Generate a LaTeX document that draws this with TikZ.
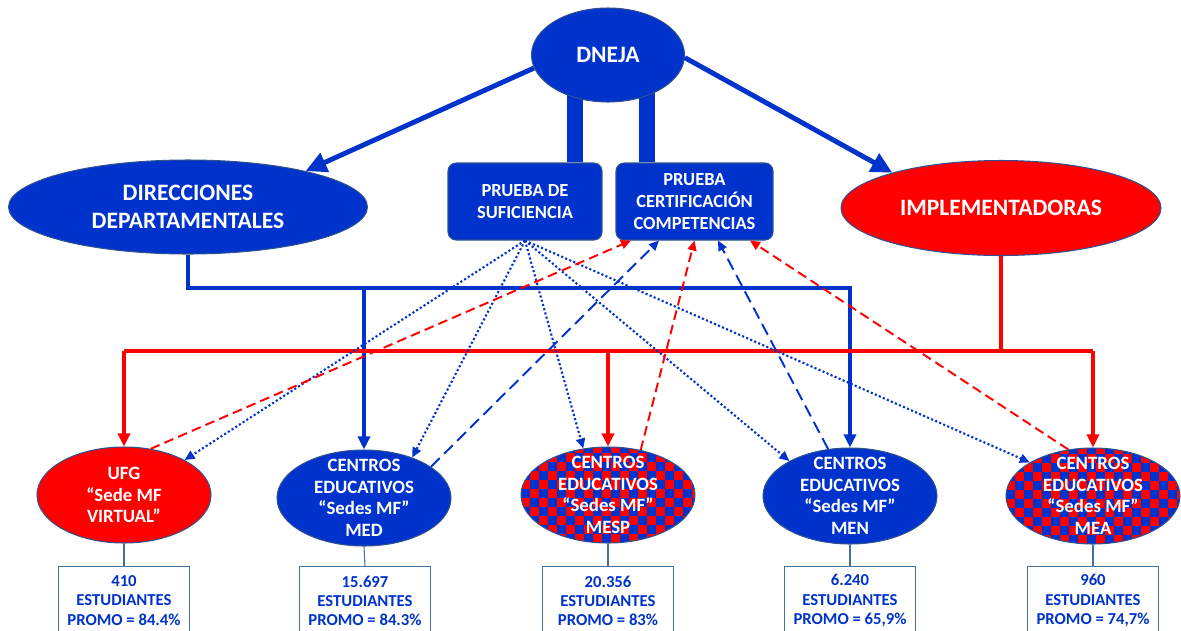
\documentclass[tikz,border=0pt]{standalone}
\usepackage{fontspec}
\setmainfont{Carlito}
\usetikzlibrary{shapes.geometric,arrows.meta,backgrounds}
\definecolor{mfblue}{RGB}{0,51,204}
\definecolor{mfred}{RGB}{255,0,0}
\definecolor{mfedge}{RGB}{47,82,143}
\definecolor{mfgray}{RGB}{65,113,156}

\begin{document}
\begin{tikzpicture}[
                     x = 0.02cm,
                     y = -0.02cm,
     every node/.style = {font=\bfseries, text=white, align=center},
           oval/.style = {ellipse, draw=mfedge, line width=0.6pt, inner sep=0pt},
          bigtext/.style = {font=\bfseries\fontsize{13.4}{15.7}\selectfont},
       prueba/.style = {rectangle, rounded corners=0.16cm, fill=mfblue, draw=mfedge, line width=0.6pt,
                        minimum height=1.54cm, inner sep=0pt, font=\bfseries\fontsize{10.5}{12.4}\selectfont},
         sede/.style = {oval, minimum width=3.48cm, minimum height=1.92cm},
     sedetext/.style = {font=\bfseries\fontsize{10.7}{12.3}\selectfont, text=white, align=center},
       checks/.style = {fill=mfblue, path picture={
                          \foreach \i in {0,2,...,20}{\foreach \j in {0,2,...,12}{
                            \fill[mfred] ([shift={(\i*0.18cm,\j*0.18cm)}]path picture bounding box.south west) rectangle ++(0.18cm,0.18cm);
                            \fill[mfred] ([shift={(\i*0.18cm+0.18cm,\j*0.18cm+0.18cm)}]path picture bounding box.south west) rectangle ++(0.18cm,0.18cm);
                          }}}},
         dato/.style = {rectangle, draw=mfgray, line width=0.6pt, fill=white, text=mfblue,
                        minimum width=2.62cm, minimum height=1.36cm, inner sep=0pt, anchor=north,
                        font=\bfseries\fontsize{9.5}{10.9}\selectfont},
        flecha/.style = {mfblue, line width=2.8pt, -{Triangle[length=0.42cm,width=0.4cm]}},
          bar/.style = {mfblue, line width=0.33cm},
      bluebus/.style = {mfblue, line width=2pt},
       redbus/.style = {mfred, line width=2pt},
      bustip/.style = {-{Triangle[length=0.26cm,width=0.24cm]}},
       punteo/.style = {mfblue, line width=1.2pt, dash pattern=on 1.2pt off 1.3pt, -{Triangle[length=0.2cm,width=0.18cm]}},
      rojotra/.style = {mfred, line width=1.1pt, dash pattern=on 5.5pt off 3pt, -{Triangle[length=0.2cm,width=0.18cm]}},
      azultra/.style = {mfblue, line width=1.1pt, dash pattern=on 7pt off 3.5pt, -{Triangle[length=0.2cm,width=0.18cm]}},
       enlace/.style = {mfgray, line width=0.6pt},
                     ]
	\clip (0,0) rectangle (1181,630);
	% top level
	\node[oval, fill=mfblue, minimum width=3.06cm, minimum height=1.88cm, bigtext] (dneja) at (608,55) {DNEJA};
	\node[oval, fill=mfblue, minimum width=7.18cm, minimum height=1.88cm, bigtext] (direcciones) at (188,207) {DIRECCIONES\\DEPARTAMENTALES};
	\node[oval, fill=mfred, minimum width=6.4cm, minimum height=1.9cm, bigtext] (implementadoras) at (1001,208) {IMPLEMENTADORAS};
	\node[prueba, minimum width=3.08cm] (suficiencia) at (525,201.5) {PRUEBA DE\\SUFICIENCIA};
	\node[prueba, minimum width=3.14cm] (certificacion) at (694.5,201.5) {PRUEBA\\CERTIFICACIÓN\\COMPETENCIAS};
	\begin{scope}[on background layer]
		\draw[bar] ([xshift=1cm]suficiencia.north) -- ([xshift=1cm]suficiencia.north |- dneja.center);
		\draw[bar] ([xshift=-0.95cm]certificacion.north) -- ([xshift=-0.95cm]certificacion.north |- dneja.center);
	\end{scope}
	\draw[flecha] (dneja.190) -- (direcciones.17);
	\draw[flecha] (dneja.-2) -- (implementadoras.162);
	% sedes
	\node[sede, fill=mfred, label={[sedetext]center:UFG\\“Sede MF\\VIRTUAL”}] (ufg) at (124,495) {};
	\node[sede, fill=mfblue, label={[sedetext]center:CENTROS\\EDUCATIVOS\\“Sedes MF”\\MED}] (med) at (364,498) {};
	\node[sede, checks, label={[sedetext]center:CENTROS\\EDUCATIVOS\\“Sedes MF”\\MESP}] (mesp) at (608,495) {};
	\node[sede, fill=mfblue, label={[sedetext]center:CENTROS\\EDUCATIVOS\\“Sedes MF”\\MEN}] (men) at (850,496) {};
	\node[sede, checks, label={[sedetext]center:CENTROS\\EDUCATIVOS\\“Sedes MF”\\MEA}] (mea) at (1093,496) {};
	% datos
	\node[dato] (nufg) at (124,566) {410\\ESTUDIANTES\\PROMO = 84.4\%};
	\node[dato] (nmed) at (365,566) {15.697\\ESTUDIANTES\\PROMO = 84.3\%};
	\node[dato] (nmesp) at (608,566) {20.356\\ESTUDIANTES\\PROMO = 83\%};
	\node[dato] (nmen) at (850,566) {6.240\\ESTUDIANTES\\PROMO = 65,9\%};
	\node[dato] (nmea) at (1093,566) {960\\ESTUDIANTES\\PROMO = 74,7\%};
	\foreach \s in {ufg,med,mesp,men,mea}
		\draw[enlace] (\s.south) -- (n\s.north);
	% buses
	\coordinate (azul) at (0,288);
	\coordinate (rojo) at (0,351);
	\draw[bluebus, bustip] (direcciones.south) |- (men.north |- azul) -- (men.north);
	\draw[bluebus, bustip] (med.north |- azul) -- (med.north);
	\draw[redbus] (implementadoras.south) -- (implementadoras.south |- rojo);
	\draw[redbus] (ufg.north |- rojo) -- (mea.north |- rojo);
	\foreach \s in {ufg,mesp,mea}
		\draw[redbus, bustip] (\s.north |- rojo) -- (\s.north);
	% pruebas
	\draw[punteo] (suficiencia.south) -- (ufg.30);
	\draw[punteo] (suficiencia.south) -- (med.40);
	\draw[punteo] (suficiencia.south) -- (mesp.118);
	\draw[punteo] (suficiencia.south) -- (men.150);
	\draw[punteo] (suficiencia.south) -- (mea.152);
	\draw[rojotra] (ufg.60) -- ([xshift=-1.27cm]certificacion.south);
	\draw[azultra] (med.25) -- ([xshift=-0.71cm]certificacion.south);
	\draw[rojotra] (mesp.54) -- (certificacion.south);
	\draw[azultra] (men.115) -- ([xshift=0.47cm]certificacion.south);
	\draw[rojotra] (mea.118) -- ([xshift=1.11cm]certificacion.south);
\end{tikzpicture}
\end{document}
